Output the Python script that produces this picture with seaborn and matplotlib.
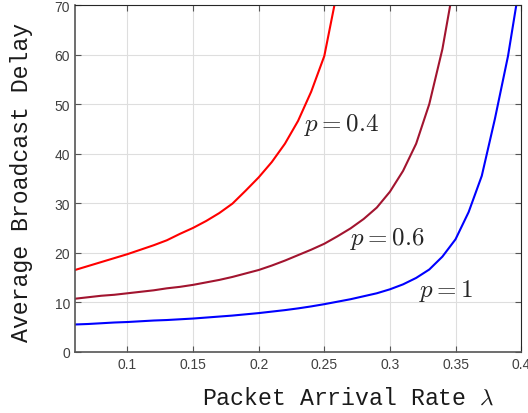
import numpy as np
import pandas as pd
import matplotlib
matplotlib.use("Agg")
import matplotlib.pyplot as plt
import seaborn as sns

lam = [0.06, 0.07, 0.08, 0.09, 0.10, 0.11, 0.12, 0.13, 0.14, 0.15, 0.16, 0.17,
       0.18, 0.19, 0.20, 0.21, 0.22, 0.23, 0.24, 0.25, 0.26, 0.27, 0.28, 0.29,
       0.30, 0.31, 0.32, 0.33, 0.34, 0.35, 0.36, 0.37, 0.38, 0.39, 0.40]

delay_p04 = [16.5, 17.3, 18.1, 18.9, 19.7, 20.6, 21.5, 22.5, 23.8, 25.0, 26.4, 28.0,
             29.9, 32.5, 35.2, 38.3, 42.0, 46.6, 52.5, 59.7, 73.0, 95.0]
delay_p06 = [10.7, 11.0, 11.3, 11.5, 11.8, 12.1, 12.4, 12.8, 13.1, 13.5, 14.0, 14.5,
             15.1, 15.8, 16.5, 17.4, 18.4, 19.5, 20.6, 21.8, 23.3, 24.9, 26.8, 29.1,
             32.3, 36.5, 42.0, 50.0, 61.1, 76.0]
delay_p1 = [5.5, 5.6, 5.75, 5.9, 6.0, 6.15, 6.3, 6.4, 6.55, 6.7, 6.9, 7.1,
            7.3, 7.55, 7.8, 8.1, 8.4, 8.75, 9.15, 9.6, 10.1, 10.6, 11.2, 11.8,
            12.6, 13.6, 14.9, 16.6, 19.2, 22.7, 28.2, 35.5, 47.0, 59.7, 76.0]

series_names = ["p=0.4", "p=0.6", "p=1"]
series_values = [delay_p04, delay_p06, delay_p1]
colors = ["#FF0000", "#A2142F", "#0000FF"]

labels = [r"$p = 0.4$", r"$p = 0.6$", r"$p = 1$"]
label_pos = [(0.2345, 44.8), (0.2696, 21.8), (0.3224, 11.3)]

xticks = [0.1, 0.15, 0.2, 0.25, 0.3, 0.35, 0.4]
xticklabels = ["0.1", "0.15", "0.2", "0.25", "0.3", "0.35", "0.4"]
yticks = [0, 10, 20, 30, 40, 50, 60, 70]

rows = []
for name, vals in zip(series_names, series_values):
    for x, y in zip(lam, vals):
        rows.append({"lam": x, "delay": y, "p": name})
df = pd.DataFrame(rows)

sns.set_theme(style="whitegrid")
plt.rcParams["mathtext.fontset"] = "cm"

fig = plt.figure(figsize=(5.28, 4.14), dpi=100)
ax = fig.add_axes([0.142, 0.148, 0.845, 0.8375])
ax.set_facecolor("white")

sns.lineplot(data=df, x="lam", y="delay", hue="p", palette=colors,
             linewidth=1.5, ax=ax, legend=False, sort=True)

for (txt, (x, y)) in zip(labels, label_pos):
    ax.text(x, y, txt, fontsize=18, color="#262626", ha="left", va="baseline")

ax.set_xlim(0.06, 0.4)
ax.set_ylim(0, 70)
ax.set_xticks(xticks)
ax.set_xticklabels(xticklabels)
ax.set_yticks(yticks)

ax.grid(True, color="#dedede", linewidth=0.8)
for s in ax.spines.values():
    s.set_visible(True)
    s.set_color("#262626")
    s.set_linewidth(0.8)
ax.spines["left"].set_color("#555555")
ax.spines["bottom"].set_color("#555555")
ax.spines["left"].set_linewidth(1.2)
ax.spines["bottom"].set_linewidth(1.2)

ax.tick_params(direction="in", length=4, width=0.8, colors="#555555",
               labelcolor="#404040", labelsize=10, top=True, right=True,
               bottom=True, left=True, labeltop=False, labelright=False)
for lab in ax.get_xticklabels() + ax.get_yticklabels():
    lab.set_fontfamily("Liberation Sans")

ax.set_xlabel(r"Packet Arrival Rate $\lambda$", fontsize=16.7,
              family="Liberation Mono", color="#1a1a1a")
ax.xaxis.set_label_coords(0.612, -0.097)
ax.set_ylabel("Average Broadcast Delay", fontsize=16.7,
              family="Liberation Mono", color="#1a1a1a")
ax.yaxis.set_label_coords(-0.094, 0.49)

fig.savefig("out.png", dpi=100)
